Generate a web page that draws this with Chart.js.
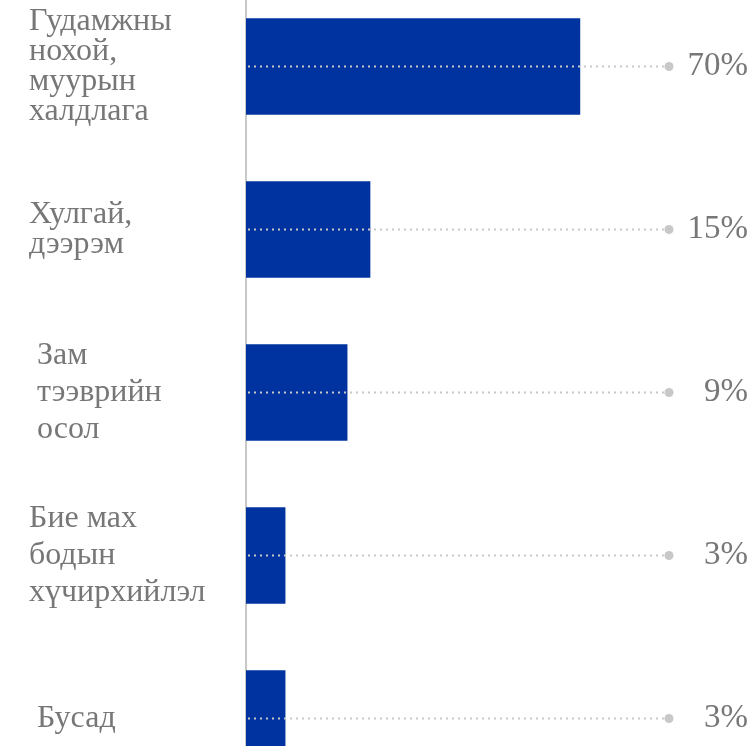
<!DOCTYPE html>
<html>
<head>
<meta charset="utf-8">
<script src="https://cdn.jsdelivr.net/npm/chart.js@4.4.0/dist/chart.umd.min.js"></script>
<style>
  body{margin:0;background:#fff;}
  #wrap{position:relative;width:754px;height:746px;overflow:hidden;}
  #chart{position:absolute;left:0;top:-15px;}
</style>
</head>
<body>
<div id="wrap"><canvas id="chart" width="754" height="815"></canvas></div>
<script>
// categories (multi-line, as in the picture)
var categories = [
    ["Гудамжны", "нохой,", "муурын", "халдлага"],
    ["Хулгай,", "дээрэм"],
    [" Зам", " тээврийн", " осол"],
    ["Бие мах", "бодын", "хүчирхийлэл"],
    [" Бусад"]
];
// drawn bar lengths (scale 0-100)
var barValues = [70, 26, 21.2, 8.2, 8.2];
// percent labels printed on the right
var shareLabels = ["70%", "15%", "9%", "3%", "3%"];

var serif = "'Liberation Serif', 'Times New Roman', serif";

var leaders = {
    id: "leaders",
    afterDatasetsDraw: function(chart){
        var ctx = chart.ctx;
        var xs = chart.scales.x, ys = chart.scales.y;
        var dotX = chart.width - 85;
        ctx.save();
        for (var i = 0; i < shareLabels.length; i++) {
            var y = ys.getPixelForValue(i);
            var x0 = xs.getPixelForValue(0);
            //dotted line
            ctx.strokeStyle = "#c8c8c8";
            ctx.lineWidth = 2;
            ctx.setLineDash([2, 4]);
            ctx.beginPath();
            ctx.moveTo(x0 + 2, y);
            ctx.lineTo(dotX - 5, y);
            ctx.stroke();
            ctx.setLineDash([]);
            //end dot
            ctx.fillStyle = "#c8c8c8";
            ctx.beginPath();
            ctx.arc(dotX, y, 4.5, 0, Math.PI * 2);
            ctx.fill();
            //text
            ctx.fillStyle = "#777777";
            ctx.font = "33px " + serif;
            ctx.textAlign = "right";
            ctx.textBaseline = "middle";
            ctx.fillText(shareLabels[i], chart.width - 6, y);
        }
        ctx.restore();
    }
};

var chart = new Chart(document.getElementById("chart"), {
    type: "bar",
    data: {
        labels: categories,
        datasets: [{
            data: barValues,
            backgroundColor: "#0033a0",
            borderWidth: 0,
            barThickness: 96
        }]
    },
    options: {
        indexAxis: "y",
        responsive: false,
        animation: false,
        layout: { padding: { left: 29, right: 31, top: 0, bottom: 0 } },
        plugins: { legend: { display: false }, tooltip: { enabled: false } },
        scales: {
            x: { display: false, min: 0, max: 100 },
            y: {
                grid: { display: false },
                border: { display: true, color: "#c8c8c8", width: 2 },
                ticks: {
                    autoSkip: false,
                    crossAlign: "far",
                    color: "#777777",
                    font: function(c){
                        var lh = (c.index == 2 || c.index == 3) ? "37px" : "30px";
                        return { family: serif, size: 32, lineHeight: lh };
                    }
                },
                afterFit: function(scale){
                    scale.width = 246 - 29;
                    // labels are taller than the rows, no extra room needed
                    scale.paddingTop = 0;
                    scale.paddingBottom = 0;
                }
            }
        }
    },
    plugins: [leaders]
});
</script>
</body>
</html>
